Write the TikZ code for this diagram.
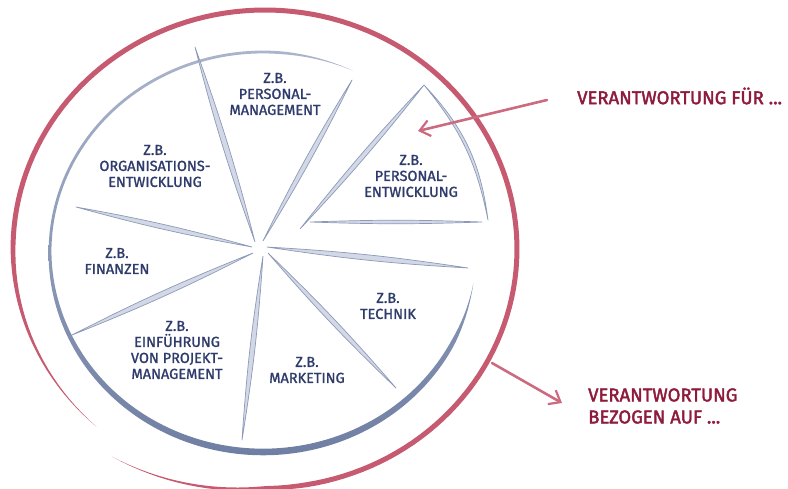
\documentclass[tikz,border=0pt]{standalone}
\usepackage{fontspec}
\setmainfont{Fira Sans}
\newfontfamily\handfont{Fira Sans}[FakeBold=1.4]
\newfontfamily\redfont{Fira Sans}[FakeBold=2.2]
\usetikzlibrary{arrows.meta,calc}
\definecolor{bluetext}{HTML}{2E3B6B}
\definecolor{spokefill}{HTML}{D2D8E6}
\definecolor{spokedraw}{HTML}{8D99B8}
\definecolor{bluelight}{HTML}{AAB4CB}
\definecolor{bluedark}{HTML}{6F7FA3}
\definecolor{redarc}{HTML}{C65A70}
\definecolor{redtext}{HTML}{8E1B3B}
\definecolor{redarrow}{HTML}{CC6A80}
\tikzset{
  spokeline/.style={fill=spokefill,draw=spokedraw,line width=0.7pt,line join=round},
  bluelabel/.style={text=bluetext,align=center,font=\handfont\fontsize{14.5}{16}\selectfont,inner sep=0pt},
  redlabel/.style={text=redtext,align=left,font=\redfont\fontsize{18.5}{22}\selectfont,inner sep=0pt},
  redpointer/.style={draw=redarrow,line width=2.6pt,line cap=round,-{Straight Barb[length=10pt,width=16pt,line width=2.2pt]}},
}
\begin{document}
\begin{tikzpicture}[x=1pt,y=-1pt,
  declare function={
    redF(\t)=1+0.06*max(0,(-90-\t)/35);
    redW(\t)=5*min(1,(228-\t)/50,(\t+125)/45);
    blueW(\t)=(2.8+3.8*max(0,-sin(\t)))*min(1,(\t-65)/20,(351-\t)/18);
  }]
\useasboundingbox (0,0) rectangle (788,489);
% outer red spiral
\fill[redarc] plot[domain=228:-125,samples=160,variable=\t]
   ({265+(252*redF(\t)+redW(\t)/2)*cos(\t)},{249-(239*redF(\t)+redW(\t)/2)*sin(\t)})
   -- plot[domain=-125:228,samples=160,variable=\t]
   ({265+(252*redF(\t)-redW(\t)/2)*cos(\t)},{249-(239*redF(\t)-redW(\t)/2)*sin(\t)}) -- cycle;
% inner blue arc
\shade[top color=bluelight,bottom color=bluedark] plot[domain=65:351,samples=150,variable=\t]
   ({263+(213+blueW(\t)/2)*cos(\t)},{252-(200+blueW(\t)/2)*sin(\t)})
   -- plot[domain=351:65,samples=150,variable=\t]
   ({263+(213-blueW(\t)/2)*cos(\t)},{252-(200-blueW(\t)/2)*sin(\t)}) -- cycle;
% spoke coordinates
\coordinate (c1) at (255,242); \coordinate (e1) at (195,47);
\coordinate (c2) at (263,241); \coordinate (e2) at (352,80);
\coordinate (c3) at (267,247); \coordinate (e3) at (468,268);
\coordinate (c4) at (268,253); \coordinate (e4) at (396,388);
\coordinate (c5) at (263,256); \coordinate (e5) at (242,440);
\coordinate (c6) at (253,253); \coordinate (e6) at (72,335);
\coordinate (c7) at (252,247); \coordinate (e7) at (76,207);
\foreach \i in {1,...,7}{
  \filldraw[spokeline] (c\i) to[bend left=2.6] (e\i) to[bend left=2.6] (c\i);
}
% wedge Personal-Entwicklung
\coordinate (wl) at (300,229); \coordinate (wa) at (424,85);
\coordinate (wr) at (488,220); \coordinate (wb1) at (310,222); \coordinate (wb2) at (482,222);
\filldraw[spokeline] (wl) to[bend left=2.4] (wa) to[bend left=2.4] (wl);
\filldraw[spokeline] (wa) to[bend left=18] (wr) to[bend right=14] (wa);
\filldraw[spokeline] (wb1) to[bend left=2] (wb2) to[bend left=2] (wb1);
% labels
\node[bluelabel] (pm) at (275,94) {Z.B.\\PERSONAL-\\MANAGEMENT};
\node[bluelabel] (oe) at (155,166) {Z.B.\\ORGANISATIONS-\\ENTWICKLUNG};
\node[bluelabel] (pe) at (411,176) {Z.B.\\PERSONAL-\\ENTWICKLUNG};
\node[bluelabel] (fi) at (117,261) {Z.B.\\FINANZEN};
\node[bluelabel] (te) at (388,306) {Z.B.\\TECHNIK};
\node[bluelabel] (ep) at (177,350) {Z.B.\\EINFÜHRUNG\\VON PROJEKT-\\MANAGEMENT};
\node[bluelabel] (ma) at (307,370) {Z.B.\\MARKETING};
% red texts and arrows
\node[redlabel,anchor=west] (vf) at (577,96) {VERANTWORTUNG FÜR ...};
\node[redlabel,anchor=west] (vb) at (588,406) {VERANTWORTUNG\\BEZOGEN AUF ...};
\coordinate (a1s) at (547,100); \coordinate (a1e) at (418,131);
\coordinate (a2s) at (492,363); \coordinate (a2e) at (562,403);
\draw[redpointer] (a1s) -- (a1e);
\draw[redpointer] (a2s) -- (a2e);
\end{tikzpicture}
\end{document}
